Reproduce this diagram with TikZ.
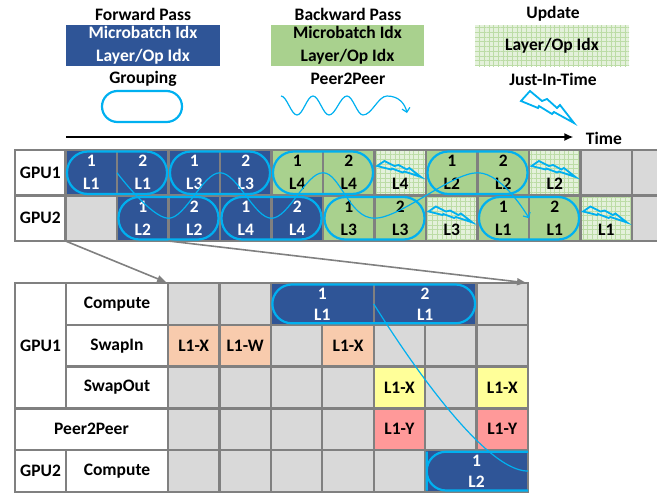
\documentclass[tikz,border=0pt]{standalone}
\usepackage{fontspec}
\setmainfont{Carlito}
\usetikzlibrary{positioning, arrows.meta, patterns.meta}

\definecolor{fwdblue}{RGB}{47,85,151}
\definecolor{bwdgreen}{RGB}{169,209,142}
\definecolor{idlegray}{RGB}{217,217,217}
\definecolor{gridgray}{RGB}{128,128,128}
\definecolor{updbg}{RGB}{228,241,219}
\definecolor{updline}{RGB}{188,220,166}
\definecolor{linkblue}{RGB}{0,176,240}
\definecolor{swinorange}{RGB}{248,203,173}
\definecolor{swoutyellow}{RGB}{255,255,153}
\definecolor{ptppink}{RGB}{255,153,153}

\newcommand{\cellfont}{\fontsize{17.5}{23}\selectfont\bfseries}

% lightning bolt, drawn from its top left corner
\tikzset{
  bolt/.pic={
    \draw[linkblue, line width=1.8pt, line join=miter]
      (9,0) -- (21,10) -- (26,8) -- (36,17) -- (39,14) -- (53,32)
      -- (33,21) -- (31,23) -- (18,15) -- (17,17) -- (0,10) -- cycle;
  }
}

\begin{document}
\begin{tikzpicture}[x=1pt, y=-1pt, font=\cellfont]
    \tikzstyle{box} = [draw=gridgray, line width=2.4pt, inner sep=0pt, outer sep=0pt, align=center]
    \tikzstyle{upcell} = [minimum width=51.5pt, minimum height=45.5pt]
    \tikzstyle{locell} = [minimum width=51.43pt, minimum height=41.8pt, font=\fontsize{17.5}{21}\selectfont\bfseries]
    \tikzstyle{lbl} = [box, fill=white]
    \tikzstyle{idle} = [box, fill=idlegray]
    \tikzstyle{fwd} = [box, fill=fwdblue, text=white]
    \tikzstyle{bwd} = [box, fill=bwdgreen]
    \tikzstyle{upd} = [box, preaction={fill=updbg}, pattern={Hatch[angle=0, distance=4.7pt, line width=0.6pt]}, pattern color=updline]
    \tikzstyle{swpin} = [box, fill=swinorange]
    \tikzstyle{swpout} = [box, fill=swoutyellow]
    \tikzstyle{ptp} = [box, fill=ptppink]
    \tikzstyle{grp} = [draw=linkblue, line width=2.2pt]
    \tikzstyle{link} = [linkblue, line width=1.2pt]
    \tikzstyle{zoomline} = [gridgray, line width=1.6pt, -{Triangle[length=9pt, width=7pt]}, shorten >=2pt]

    \useasboundingbox (0,0) rectangle (657,493);
    \clip (0,0) rectangle (657,493);

    % Legend
    \node (fwdhead) at (143,14) {Forward Pass};
    \node[fwd, draw=none, minimum width=154pt, minimum height=41pt] (fwdkey) at (143,45.5) {Microbatch Idx\\Layer/Op Idx};
    \node (grouphead) at (143,79) {Grouping};
    \node[grp, minimum width=80pt, minimum height=31pt, rounded corners=15.5pt] (groupkey) at (142,106.5) {};

    \node (bwdhead) at (348,14) {Backward Pass};
    \node[bwd, draw=none, minimum width=153pt, minimum height=41pt] (bwdkey) at (347.5,45.5) {Microbatch Idx\\Layer/Op Idx};
    \node (ptphead) at (348,79) {Peer2Peer};
    \coordinate (wavestart) at (281,96);
    \coordinate (waveend) at (407,113);
    \draw[link, -{Straight Barb[length=4pt, width=8pt]}] (wavestart)
        cos ++(8,9.5) sin ++(8,9.5) cos ++(8,-9.5) sin ++(8,-9.5)
        cos ++(8,9.5) sin ++(8,9.5) cos ++(9,-9.5) sin ++(9,-9.5)
        cos ++(8,9.5) sin ++(8,9.5) cos ++(12,-9.5) sin ++(12,-9.5)
        .. controls +(12,0) and +(-2,-9) .. (waveend);

    \node (updhead) at (553,14) {Update};
    \node[upd, draw=none, minimum width=154pt, minimum height=41pt] (updkey) at (552,45.5) {Layer/Op Idx};
    \node (jithead) at (553,79) {Just-In-Time};
    \pic at (521,91) {bolt};

    % Time axis
    \node (time) at (604,138) {Time};
    \coordinate (t0) at (66,137);
    \draw[line width=1.8pt, -{Latex[length=9pt, width=8pt]}, shorten >=9pt] (t0) -- (t0 -| time.west);

    % Schedule, GPU1 row
    \node[lbl, upcell, minimum width=50.5pt, anchor=north west] (gpu1) at (15,150) {GPU1};
    \node[fwd, upcell, right=0pt of gpu1] (u1-1) {1\\L1};
    \node[fwd, upcell, right=0pt of u1-1] (u1-2) {2\\L1};
    \node[fwd, upcell, right=0pt of u1-2] (u1-3) {1\\L3};
    \node[fwd, upcell, right=0pt of u1-3] (u1-4) {2\\L3};
    \node[bwd, upcell, right=0pt of u1-4] (u1-5) {1\\L4};
    \node[bwd, upcell, right=0pt of u1-5] (u1-6) {2\\L4};
    \node[upd, upcell, right=0pt of u1-6] (u1-7) {\phantom{0}\\L4};
    \node[bwd, upcell, right=0pt of u1-7] (u1-8) {1\\L2};
    \node[bwd, upcell, right=0pt of u1-8] (u1-9) {2\\L2};
    \node[upd, upcell, right=0pt of u1-9] (u1-10) {\phantom{0}\\L2};
    \node[idle, upcell, right=0pt of u1-10] (u1-11) {};
    \node[idle, upcell, right=0pt of u1-11] (u1-12) {};

    % Schedule, GPU2 row
    \node[lbl, upcell, minimum width=50.5pt, below=0pt of gpu1] (gpu2) {GPU2};
    \node[idle, upcell, right=0pt of gpu2] (u2-1) {};
    \node[fwd, upcell, right=0pt of u2-1] (u2-2) {1\\L2};
    \node[fwd, upcell, right=0pt of u2-2] (u2-3) {2\\L2};
    \node[fwd, upcell, right=0pt of u2-3] (u2-4) {1\\L4};
    \node[fwd, upcell, right=0pt of u2-4] (u2-5) {2\\L4};
    \node[bwd, upcell, right=0pt of u2-5] (u2-6) {1\\L3};
    \node[bwd, upcell, right=0pt of u2-6] (u2-7) {2\\L3};
    \node[upd, upcell, right=0pt of u2-7] (u2-8) {\phantom{0}\\L3};
    \node[bwd, upcell, right=0pt of u2-8] (u2-9) {1\\L1};
    \node[bwd, upcell, right=0pt of u2-9] (u2-10) {2\\L1};
    \node[upd, upcell, right=0pt of u2-10] (u2-11) {\phantom{0}\\L1};
    \node[idle, upcell, right=0pt of u2-11] (u2-12) {};

    % Just-in-time updates
    \pic[xscale=0.83, yscale=0.5] at ([xshift=2.5pt, yshift=-11pt]u1-7.north west) {bolt};
    \pic[xscale=0.83, yscale=0.5] at ([xshift=2.5pt, yshift=-11pt]u1-10.north west) {bolt};
    \pic[xscale=0.83, yscale=0.5] at ([xshift=2.5pt, yshift=-11pt]u2-8.north west) {bolt};
    \pic[xscale=0.83, yscale=0.5] at ([xshift=2.5pt, yshift=-11pt]u2-11.north west) {bolt};

    % Groupings
    \draw[grp, rounded corners=21pt] ([xshift=1.5pt, yshift=-1.5pt]u1-1.north west) rectangle ([xshift=-1.5pt, yshift=1.5pt]u1-2.south east);
    \draw[grp, rounded corners=21pt] ([xshift=1.5pt, yshift=-1.5pt]u1-3.north west) rectangle ([xshift=-1.5pt, yshift=1.5pt]u1-4.south east);
    \draw[grp, rounded corners=21pt] ([xshift=1.5pt, yshift=-1.5pt]u1-5.north west) rectangle ([xshift=-1.5pt, yshift=1.5pt]u1-6.south east);
    \draw[grp, rounded corners=21pt] ([xshift=1.5pt, yshift=-1.5pt]u1-8.north west) rectangle ([xshift=-1.5pt, yshift=1.5pt]u1-9.south east);
    \draw[grp, rounded corners=21pt] ([xshift=1.5pt, yshift=-1.5pt]u2-2.north west) rectangle ([xshift=-1.5pt, yshift=1.5pt]u2-3.south east);
    \draw[grp, rounded corners=21pt] ([xshift=1.5pt, yshift=-1.5pt]u2-4.north west) rectangle ([xshift=-1.5pt, yshift=1.5pt]u2-5.south east);
    \draw[grp, rounded corners=21pt] ([xshift=1.5pt, yshift=-1.5pt]u2-6.north west) rectangle ([xshift=-1.5pt, yshift=1.5pt]u2-7.south east);
    \draw[grp, rounded corners=21pt] ([xshift=1.5pt, yshift=-1.5pt]u2-9.north west) rectangle ([xshift=-1.5pt, yshift=1.5pt]u2-10.south east);

    % Peer2Peer hand-over between the GPUs
    \draw[link, -{Straight Barb[length=4pt, width=8pt]}] plot[smooth, tension=0.6] coordinates {
        (u1-2.west) (u2-2.east) (u1-3.east) (u2-4.east) (u1-5.east) (u2-6.east) (u1-8.east) (u2-9.east)};

    % Detail table, row labels
    \node[lbl, anchor=north west, minimum width=51pt, minimum height=125.4pt] (lgpu1) at (15,283) {GPU1};
    \node[lbl, anchor=north west, minimum width=102pt, minimum height=41.8pt] (compute1) at (66,283) {Compute};
    \node[lbl, minimum width=102pt, minimum height=41.8pt, below=0pt of compute1] (swapin) {SwapIn};
    \node[lbl, minimum width=102pt, minimum height=41.8pt, below=0pt of swapin] (swapout) {SwapOut};
    \node[lbl, anchor=north west, minimum width=153pt, minimum height=41.8pt] (peer) at (15,408.4) {Peer2Peer};
    \node[lbl, anchor=north west, minimum width=51pt, minimum height=41.8pt] (lgpu2) at (15,450.2) {GPU2};
    \node[lbl, minimum width=102pt, minimum height=41.8pt, right=0pt of lgpu2] (compute2) {Compute};

    % Detail table, GPU1 compute
    \node[idle, locell, right=0pt of compute1] (b1-1) {};
    \node[idle, locell, right=0pt of b1-1] (b1-2) {};
    \node[fwd, locell, minimum width=102.86pt, right=0pt of b1-2] (b1-3) {1\\L1};
    \node[fwd, locell, minimum width=102.86pt, right=0pt of b1-3] (b1-4) {2\\L1};
    \node[idle, locell, right=0pt of b1-4] (b1-5) {};

    % Detail table, GPU1 swap in
    \node[swpin, locell, right=0pt of swapin] (s-1) {L1-X};
    \node[swpin, locell, right=0pt of s-1] (s-2) {L1-W};
    \node[idle, locell, right=0pt of s-2] (s-3) {};
    \node[swpin, locell, right=0pt of s-3] (s-4) {L1-X};
    \node[idle, locell, right=0pt of s-4] (s-5) {};
    \node[idle, locell, right=0pt of s-5] (s-6) {};
    \node[idle, locell, right=0pt of s-6] (s-7) {};

    % Detail table, GPU1 swap out
    \node[idle, locell, right=0pt of swapout] (o-1) {};
    \node[idle, locell, right=0pt of o-1] (o-2) {};
    \node[idle, locell, right=0pt of o-2] (o-3) {};
    \node[idle, locell, right=0pt of o-3] (o-4) {};
    \node[swpout, locell, right=0pt of o-4] (o-5) {L1-X};
    \node[idle, locell, right=0pt of o-5] (o-6) {};
    \node[swpout, locell, right=0pt of o-6] (o-7) {L1-X};

    % Detail table, peer to peer
    \node[idle, locell, right=0pt of peer] (p-1) {};
    \node[idle, locell, right=0pt of p-1] (p-2) {};
    \node[idle, locell, right=0pt of p-2] (p-3) {};
    \node[idle, locell, right=0pt of p-3] (p-4) {};
    \node[ptp, locell, right=0pt of p-4] (p-5) {L1-Y};
    \node[idle, locell, right=0pt of p-5] (p-6) {};
    \node[ptp, locell, right=0pt of p-6] (p-7) {L1-Y};

    % Detail table, GPU2 compute
    \node[idle, locell, right=0pt of compute2] (c-1) {};
    \node[idle, locell, right=0pt of c-1] (c-2) {};
    \node[idle, locell, right=0pt of c-2] (c-3) {};
    \node[idle, locell, right=0pt of c-3] (c-4) {};
    \node[idle, locell, right=0pt of c-4] (c-5) {};
    \node[fwd, locell, minimum width=102.86pt, right=0pt of c-5] (c-6) {1\\L2};

    % Detail groupings and hand-over
    \draw[grp, rounded corners=19.5pt] ([xshift=1.5pt, yshift=-1.5pt]b1-3.north west) rectangle ([xshift=-1.5pt, yshift=1.5pt]b1-4.south east);
    \draw[grp, rounded corners=19.5pt] ([yshift=-1.5pt]c-6.north east) -| ([xshift=1.5pt]c-6.west) |- ([yshift=1.5pt]c-6.south east);
    \draw[link] (b1-3.east) .. controls +(30,48) and +(-45,0) .. (c-6.east);

    % Zoom from the schedule into the detail table
    \draw[zoomline] (u2-1.south west) -- (b1-1.north west);
    \draw[zoomline] (u2-2.south east) -- (b1-5.north east);
\end{tikzpicture}
\end{document}
